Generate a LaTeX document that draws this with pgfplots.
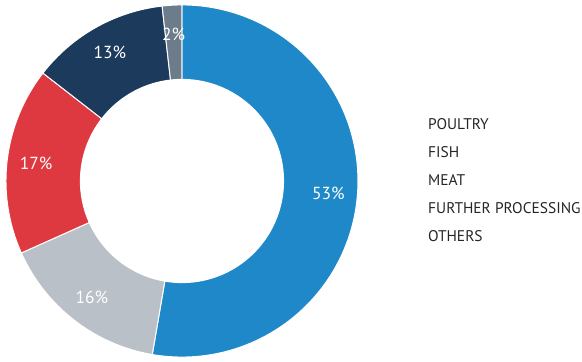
\documentclass[border=0pt]{standalone}
\usepackage{pgfplots}
\pgfplotsset{compat=1.18}
\usepackage{fontspec}
\setmainfont{PT Sans}
\definecolor{cBlue}{RGB}{30,136,200}
\definecolor{cGray}{RGB}{185,192,200}
\definecolor{cRed}{RGB}{222,57,64}
\definecolor{cNavy}{RGB}{28,58,92}
\definecolor{cSlate}{RGB}{108,124,138}
% shares (percent) of each segment, clockwise from the top
\def\vA{52.7}% Poultry
\def\vB{15.6}% Fish
\def\vC{17.2}% Meat
\def\vD{12.7}% Further processing
\def\vE{1.8}% Others
\pgfmathsetmacro{\aA}{90}
\pgfmathsetmacro{\aB}{\aA-3.6*\vA}
\pgfmathsetmacro{\aC}{\aB-3.6*\vB}
\pgfmathsetmacro{\aD}{\aC-3.6*\vC}
\pgfmathsetmacro{\aE}{\aD-3.6*\vD}
\pgfmathsetmacro{\aF}{\aE-3.6*\vE}
\def\Rin{0.58}
\def\Rl{0.835}
\pgfmathsetmacro{\mA}{(\aA+\aB)/2}
\pgfmathsetmacro{\mB}{(\aB+\aC)/2}
\pgfmathsetmacro{\mC}{(\aC+\aD)/2}
\pgfmathsetmacro{\mD}{(\aD+\aE)/2}
\pgfmathsetmacro{\mE}{(\aE+\aF)/2}
\pgfmathsetmacro{\xA}{\Rl*cos(\mA)}\pgfmathsetmacro{\yA}{\Rl*sin(\mA)}
\pgfmathsetmacro{\xB}{\Rl*cos(\mB)}\pgfmathsetmacro{\yB}{\Rl*sin(\mB)}
\pgfmathsetmacro{\xC}{\Rl*cos(\mC)}\pgfmathsetmacro{\yC}{\Rl*sin(\mC)}
\pgfmathsetmacro{\xD}{\Rl*cos(\mD)}\pgfmathsetmacro{\yD}{\Rl*sin(\mD)}
\pgfmathsetmacro{\xE}{\Rl*cos(\mE)}\pgfmathsetmacro{\yE}{\Rl*sin(\mE)}
\begin{document}
\begin{tikzpicture}
\begin{axis}[
  scale only axis, width=582bp, height=362bp,
  xmin=-1.034, xmax=2.273, ymin=-1.028, ymax=1.028,
  hide axis, clip=false,
]
\addplot[fill=cBlue, draw=white, line width=1pt, domain=\aB:\aA, samples=150] ({cos(x)},{sin(x)}) -- (axis cs:0,0) -- cycle;
\addplot[fill=cGray, draw=white, line width=1pt, domain=\aC:\aB, samples=60] ({cos(x)},{sin(x)}) -- (axis cs:0,0) -- cycle;
\addplot[fill=cRed, draw=white, line width=1pt, domain=\aD:\aC, samples=60] ({cos(x)},{sin(x)}) -- (axis cs:0,0) -- cycle;
\addplot[fill=cNavy, draw=white, line width=1pt, domain=\aE:\aD, samples=50] ({cos(x)},{sin(x)}) -- (axis cs:0,0) -- cycle;
\addplot[fill=cSlate, draw=white, line width=1pt, domain=\aF:\aE, samples=10] ({cos(x)},{sin(x)}) -- (axis cs:0,0) -- cycle;
\addplot[fill=white, draw=none, domain=0:360, samples=180] ({\Rin*cos(x)},{\Rin*sin(x)}) -- cycle;
\path (rel axis cs:0,0) rectangle (rel axis cs:1,1);
\begin{scope}[every node/.style={text=white, font=\fontsize{17.5}{20}\selectfont}]
\node at (axis cs:\xA,\yA) {53\%};
\node at (axis cs:\xB,\yB) {16\%};
\node at (axis cs:\xC,\yC) {17\%};
\node at (axis cs:\xD,\yD) {13\%};
\node at (axis cs:\xE,\yE) {2\%};
\end{scope}
\begin{scope}[every node/.style={anchor=west, inner sep=0pt, text=black!85, font=\fontsize{15.5}{18}\selectfont}]
\node at (axis cs:1.398,0.324) {POULTRY};
\node at (axis cs:1.398,0.165) {FISH};
\node at (axis cs:1.398,0.006) {MEAT};
\node at (axis cs:1.398,-0.153) {FURTHER PROCESSING};
\node at (axis cs:1.398,-0.3125) {OTHERS};
\end{scope}
\end{axis}
\end{tikzpicture}
\end{document}
